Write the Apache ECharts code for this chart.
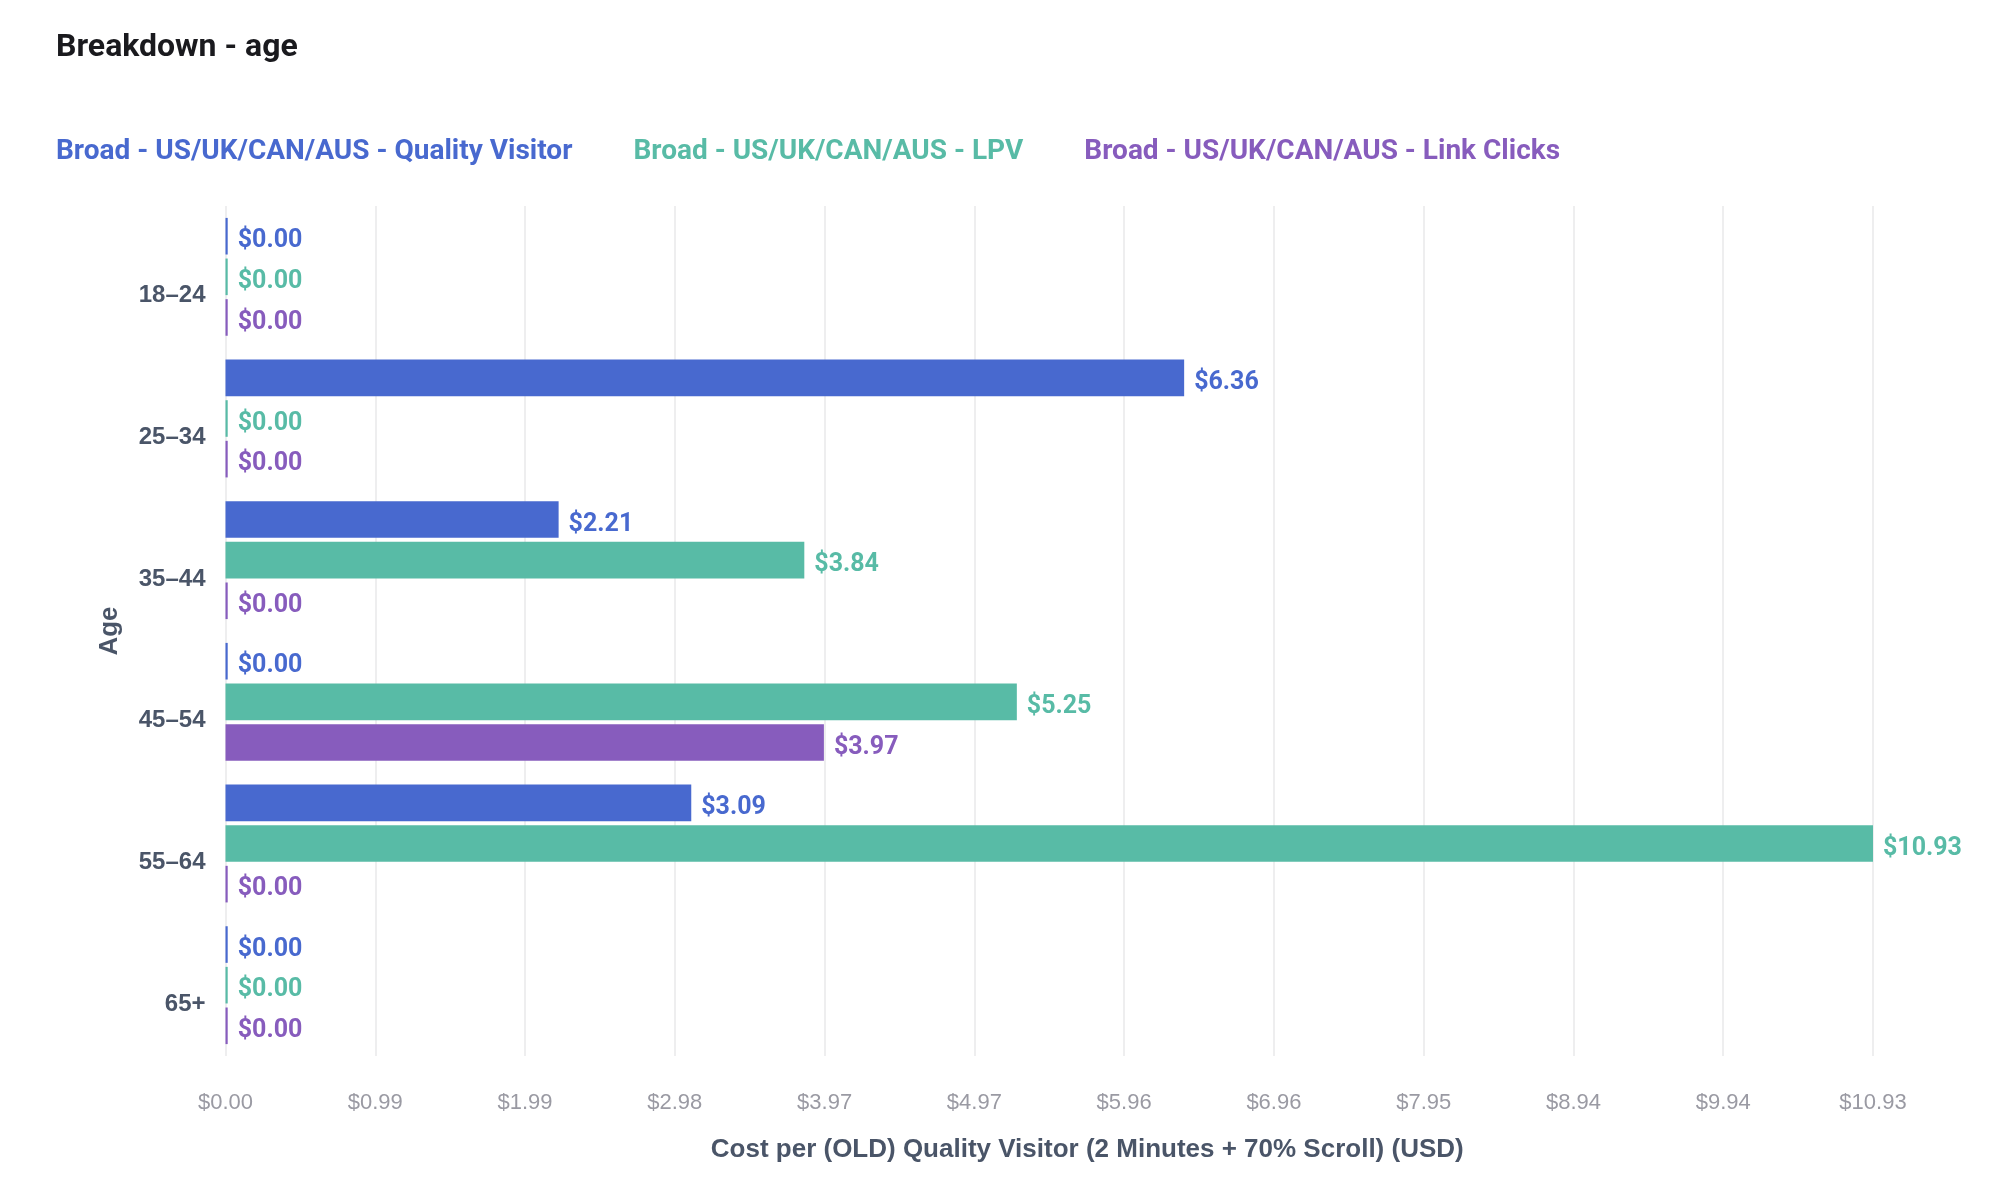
<!DOCTYPE html>
<html>
<head>
<meta charset="utf-8">
<style>
html, body { margin: 0; padding: 0; background: #fff; }
#main { width: 2004px; height: 1192px; }
</style>
<script src="https://cdn.jsdelivr.net/npm/echarts@6/dist/echarts.min.js"></script>
</head>
<body>
<div id="main"></div>
<script>
var ages = ['18–24', '25–34', '35–44', '45–54', '55–64', '65+'];
var qualityVisitor = [0, 6.36, 2.21, 0, 3.09, 0];
var lpv = [0, 0, 3.84, 5.25, 10.93, 0];
var linkClicks = [0, 0, 0, 3.97, 0, 0];
var seriesNames = [
    'Broad - US/UK/CAN/AUS - Quality Visitor',
    'Broad - US/UK/CAN/AUS - LPV',
    'Broad - US/UK/CAN/AUS - Link Clicks'
];
var colors = ['#4869cf', '#58bba6', '#875cbd'];
var axisMax = 10.93;
var tickCount = 11;

function money(v) {
    return '$' + v.toFixed(2);
}

function makeSeries(i, values) {
    return {
        name: seriesNames[i],
        type: 'bar',
        data: values,
        barWidth: 36.6,
        barGap: '11%',
        barMinHeight: 2.2,
        itemStyle: { color: colors[i] },
        label: {
            show: true,
            position: 'right',
            distance: 10,
            offset: [0, 5],
            color: colors[i],
            fontFamily: 'Roboto',
            fontWeight: 'bold',
            fontSize: 25,
            formatter: function (p) { return money(p.value); }
        }
    };
}

var chart = echarts.init(document.getElementById('main'), null, { renderer: 'canvas' });
chart.setOption({
    animation: false,
    backgroundColor: '#fff',
    title: {
        text: 'Breakdown - age',
        left: 56,
        top: 32,
        padding: 0,
        textStyle: { fontFamily: 'Roboto', fontWeight: 'bold', fontSize: 32, color: '#1a1a1e' }
    },
    legend: {
        left: 51,
        top: 138,
        padding: 0,
        icon: 'none',
        itemWidth: 0,
        itemHeight: 0,
        itemGap: 56,
        selectedMode: false,
        data: seriesNames.map(function (n, i) {
            return {
                name: n,
                textStyle: { color: colors[i], fontFamily: 'Roboto', fontWeight: 'bold', fontSize: 28 }
            };
        })
    },
    grid: { left: 225.5, top: 206, width: 1647.5, height: 850 },
    xAxis: {
        type: 'value',
        min: 0,
        max: axisMax,
        interval: axisMax / tickCount,
        name: 'Cost per (OLD) Quality Visitor (2 Minutes + 70% Scroll) (USD)',
        nameLocation: 'middle',
        nameGap: 81,
        nameTextStyle: {
            color: '#4a5568',
            fontFamily: 'Liberation Sans',
            fontWeight: 'bold',
            fontSize: 26,
            padding: [0, 0, 0, 76]
        },
        axisLine: { show: false },
        axisTick: { show: false },
        axisLabel: {
            color: '#9a9aa3',
            fontFamily: 'Liberation Sans',
            fontSize: 22,
            margin: 36,
            showMaxLabel: true,
            formatter: function (v) { return money(v); }
        },
        splitLine: { show: true, lineStyle: { color: '#eeeeef', width: 2 } }
    },
    yAxis: {
        type: 'category',
        inverse: true,
        data: ages,
        name: 'Age',
        nameLocation: 'middle',
        nameGap: 103,
        nameTextStyle: {
            color: '#4a5568',
            fontFamily: 'Liberation Sans',
            fontWeight: 'bold',
            fontSize: 26
        },
        axisLine: { show: false },
        axisTick: { show: false },
        axisLabel: {
            color: '#4a5568',
            fontFamily: 'Liberation Sans',
            fontWeight: 'bold',
            fontSize: 24,
            margin: 20,
            verticalAlign: 'top',
            padding: [7, 0, 0, 0]
        },
        splitLine: { show: false }
    },
    series: [
        makeSeries(0, qualityVisitor),
        makeSeries(1, lpv),
        makeSeries(2, linkClicks)
    ]
});
</script>
</body>
</html>
